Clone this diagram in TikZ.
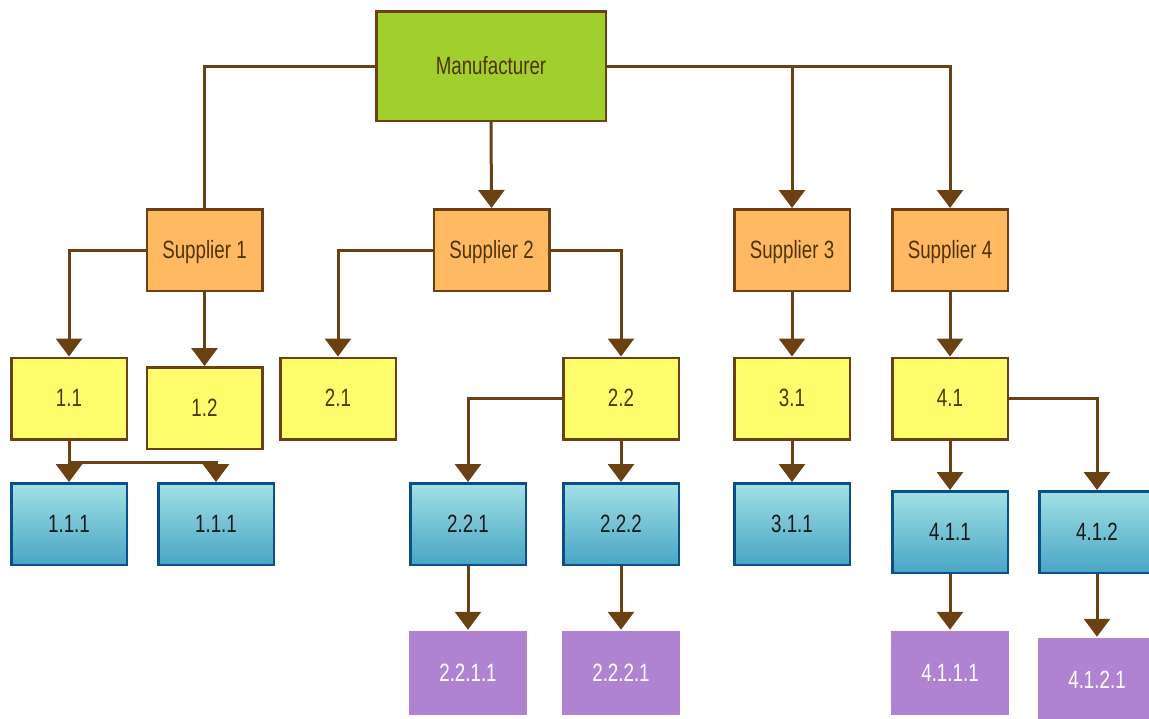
\documentclass[tikz,border=0pt]{standalone}
\usepackage{fontspec}
\setmainfont{Liberation Sans}[FakeStretch=0.75]
\usetikzlibrary{arrows.meta}
\definecolor{brownline}{HTML}{6B4114}
\definecolor{browntext}{HTML}{4F3405}
\definecolor{mgreen}{HTML}{A0CF2E}
\definecolor{sorange}{HTML}{FFB962}
\definecolor{lyellow}{HTML}{FFFD6B}
\definecolor{ctop}{HTML}{A2E1E5}
\definecolor{cbottom}{HTML}{48A5C5}
\definecolor{cborder}{HTML}{0B4E88}
\definecolor{lpurple}{HTML}{B083D2}
\tikzset{
  box/.style={draw=brownline, line width=2.5pt, minimum width=115.5pt, minimum height=81.5pt,
    inner sep=0pt, text height=16pt, text depth=0pt,
    text=browntext, font=\fontsize{25}{27}\selectfont},
  mfr/.style={box, fill=mgreen, minimum width=229.5pt, minimum height=109.5pt},
  supp/.style={box, fill=sorange},
  lvone/.style={box, fill=lyellow},
  lvtwo/.style={box, draw=cborder, top color=ctop, bottom color=cbottom, text=black!90},
  lvthree/.style={box, draw=none, fill=lpurple, text=white, minimum width=118pt, minimum height=84pt},
  link/.style={draw=brownline, line width=3pt},
  arr/.style={link, -{Triangle[width=26pt,length=18pt]}},
}
\begin{document}
\begin{tikzpicture}[x=1pt,y=-1pt]
\useasboundingbox (0,0) rectangle (1149,718);
\clip (0,0) rectangle (1149,718);
\fill[white] (0,0) rectangle (1149,718);

% top level
\node[mfr] (man) at (491,66) {Manufacturer};

% suppliers
\node[supp] (s1) at (204.5,250) {Supplier 1};
\node[supp] (s2) at (491.5,250) {Supplier 2};
\node[supp] (s3) at (792,250) {Supplier 3};
\node[supp] (s4) at (950,250) {Supplier 4};

% first tier
\node[lvone] (n11) at (69,398.5) {1.1};
\node[lvone] (n12) at (204.5,408) {1.2};
\node[lvone] (n21) at (338,398.5) {2.1};
\node[lvone] (n22) at (621,398.5) {2.2};
\node[lvone] (n31) at (792,398.5) {3.1};
\node[lvone] (n41) at (950,398.5) {4.1};

% second tier
\node[lvtwo] (n111a) at (69,524) {1.1.1};
\node[lvtwo] (n111b) at (216,524) {1.1.1};
\node[lvtwo] (n221) at (468,524) {2.2.1};
\node[lvtwo] (n222) at (621,524) {2.2.2};
\node[lvtwo] (n311) at (792,524) {3.1.1};
\node[lvtwo] (n411) at (950,532) {4.1.1};
\node[lvtwo] (n412) at (1097,532) {4.1.2};

% third tier
\node[lvthree] (n2211) at (468,673) {2.2.1.1};
\node[lvthree] (n2221) at (621,673) {2.2.2.1};
\node[lvthree] (n4111) at (950,673) {4.1.1.1};
\node[lvthree] (n4121) at (1097,680) {4.1.2.1};

% manufacturer to suppliers
\draw[link] (man.west) -| (s1.north);
\draw[arr] (man.south) -- (s2.north);
\draw[arr] (man.east) -| (s4.north);
\draw[arr] (man.east -| s3.north) -- (s3.north);

% suppliers to first tier
\draw[arr] (s1.west) -| (n11.north);
\draw[arr] (s1.south) -- (n12.north);
\draw[arr] (s2.west) -| (n21.north);
\draw[arr] (s2.east) -| (n22.north);
\draw[arr] (s3.south) -- (n31.north);
\draw[arr] (s4.south) -- (n41.north);

% first tier to second tier
\coordinate (j11) at (69,462);
\draw[arr] (n11.south) -- (n111a.north);
\draw[arr] (j11) -| (n111b.north);
\draw[arr] (n22.west) -| (n221.north);
\draw[arr] (n22.south) -- (n222.north);
\draw[arr] (n31.south) -- (n311.north);
\draw[arr] (n41.south) -- (n411.north);
\draw[arr] (n41.east) -| (n412.north);

% second tier to third tier
\draw[arr] (n221.south) -- (n2211.north);
\draw[arr] (n222.south) -- (n2221.north);
\draw[arr] (n411.south) -- (n4111.north);
\draw[arr] (n412.south) -- (n4121.north);
\end{tikzpicture}
\end{document}
